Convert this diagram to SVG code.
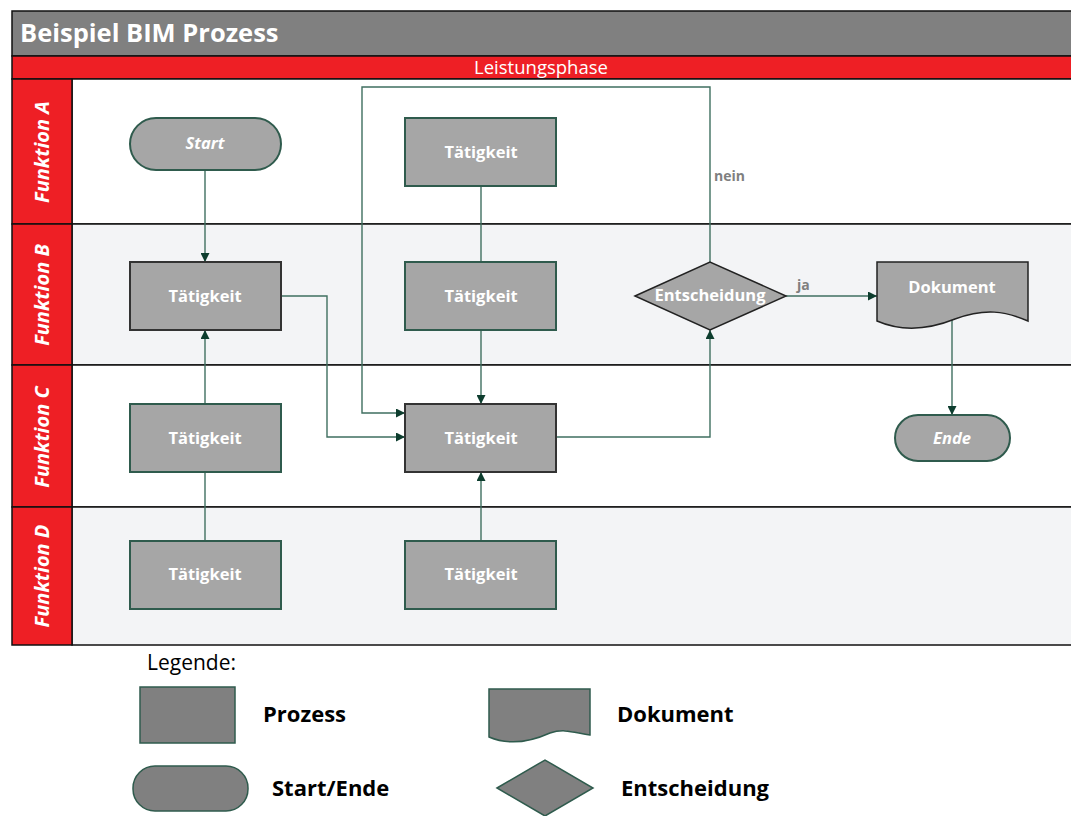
<svg xmlns="http://www.w3.org/2000/svg" width="1071" height="816" viewBox="0 0 1071 816">
<style>
.fr{stroke:#111;stroke-width:1.5}
.lane-lbl{font-family:"Open Sans","Noto Sans",sans-serif;font-weight:700;font-style:italic;font-size:20px;fill:#fff}
.box{fill:#a6a6a6;stroke:#2f5b4d;stroke-width:2}
.boxd{fill:#a6a6a6;stroke:#333;stroke-width:2}
.t{font-family:"Open Sans","Noto Sans",sans-serif;font-weight:700;font-size:16.5px;fill:#fff;text-anchor:middle}
.ti{font-style:italic}
.e{fill:none;stroke:#3f6f60;stroke-width:1.4}
.el{font-family:"Open Sans","Noto Sans",sans-serif;font-weight:700;font-size:14px;fill:#7f7f7f}
.lg{fill:#808080;stroke:#2f5b4d;stroke-width:1.5}
.lt{font-family:"Open Sans","Noto Sans",sans-serif;font-weight:700;font-size:22px;fill:#000}
</style>
<defs>
<marker id="ah" viewBox="0 0 10 10" refX="10" refY="5" markerWidth="9" markerHeight="9" markerUnits="userSpaceOnUse" orient="auto">
<path d="M0,0 L10,5 L0,10 Z" fill="#0d3d2e"/>
</marker>
</defs>
<rect width="1071" height="816" fill="#fff"/>
<g id="frame">
<rect x="12" y="11" width="1060" height="45" fill="#808080" class="fr"/>
<text x="20" y="42" font-family="Open Sans, Noto Sans, sans-serif" font-weight="700" font-size="25.5" fill="#fff">Beispiel BIM Prozess</text>
<rect x="12" y="56" width="1060" height="23" fill="#ee1f25" class="fr"/>
<text x="541" y="74" font-family="Open Sans, Noto Sans, sans-serif" font-size="18.5" fill="#fff" text-anchor="middle">Leistungsphase</text>
<rect x="72" y="79" width="1000" height="145" fill="#fff" class="fr"/>
<rect x="72" y="224" width="1000" height="141" fill="#f3f4f6" class="fr"/>
<rect x="72" y="365" width="1000" height="142" fill="#fff" class="fr"/>
<rect x="72" y="507" width="1000" height="138" fill="#f3f4f6" class="fr"/>
<rect x="12" y="79" width="60" height="145" fill="#ee1f25" class="fr"/>
<rect x="12" y="224" width="60" height="141" fill="#ee1f25" class="fr"/>
<rect x="12" y="365" width="60" height="142" fill="#ee1f25" class="fr"/>
<rect x="12" y="507" width="60" height="138" fill="#ee1f25" class="fr"/>
<text class="lane-lbl" transform="translate(49,152) rotate(-90)" text-anchor="middle">Funktion A</text>
<text class="lane-lbl" transform="translate(49,295) rotate(-90)" text-anchor="middle">Funktion B</text>
<text class="lane-lbl" transform="translate(49,437) rotate(-90)" text-anchor="middle">Funktion C</text>
<text class="lane-lbl" transform="translate(49,576) rotate(-90)" text-anchor="middle">Funktion D</text>
</g>
<g id="connectors">
<path class="e" d="M205,170 V262" marker-end="url(#ah)"/>
<path class="e" d="M205,404 V330" marker-end="url(#ah)"/>
<path class="e" d="M205,541 V472"/>
<path class="e" d="M281,296 H327 V437 H405" marker-end="url(#ah)"/>
<path class="e" d="M710,262 V87 H362 V413 H405" marker-end="url(#ah)"/>
<path class="e" d="M481,186 V262"/>
<path class="e" d="M481,330 V404" marker-end="url(#ah)"/>
<path class="e" d="M481,541 V472" marker-end="url(#ah)"/>
<path class="e" d="M556,437 H710 V330" marker-end="url(#ah)"/>
<path class="e" d="M786,296 H877" marker-end="url(#ah)"/>
<path class="e" d="M952,320 V415" marker-end="url(#ah)"/>
<text class="el" x="714" y="181">nein</text>
<text class="el" x="797" y="290">ja</text>
</g>
<g id="start"><rect class="box" x="130" y="118" width="151" height="52" rx="26"/><text class="t ti" x="205" y="149">Start</text></g>
<g id="a1"><rect class="box" x="405" y="118" width="151" height="68"/><text class="t" x="481" y="158">Tätigkeit</text></g>
<g id="b1"><rect class="boxd" x="130" y="262" width="151" height="68"/><text class="t" x="205" y="302">Tätigkeit</text></g>
<g id="b2"><rect class="box" x="405" y="262" width="151" height="68"/><text class="t" x="481" y="302">Tätigkeit</text></g>
<g id="decision"><path d="M635,296 L710,262 L786,296 L710,330 Z" fill="#a6a6a6" stroke="#222" stroke-width="1.5"/><text class="t" x="710" y="301" font-size="15">Entscheidung</text></g>
<g id="dokument"><path d="M877,262 H1028 V321 C1005,311 985,308 955,319 C925,331 900,331 877,321 Z" fill="#a6a6a6" stroke="#222" stroke-width="1.5"/><text class="t" x="952" y="293">Dokument</text></g>
<g id="c1"><rect class="box" x="130" y="404" width="151" height="68"/><text class="t" x="205" y="444">Tätigkeit</text></g>
<g id="c2"><rect class="boxd" x="405" y="404" width="151" height="68"/><text class="t" x="481" y="444">Tätigkeit</text></g>
<g id="ende"><rect class="box" x="895" y="415" width="115" height="46" rx="23"/><text class="t ti" x="952" y="444">Ende</text></g>
<g id="d1"><rect class="box" x="130" y="541" width="151" height="68"/><text class="t" x="205" y="580">Tätigkeit</text></g>
<g id="d2"><rect class="box" x="405" y="541" width="151" height="68"/><text class="t" x="481" y="580">Tätigkeit</text></g>
<g id="legend">
<text x="147" y="670" font-family="Open Sans, Noto Sans, sans-serif" font-size="21" fill="#000">Legende:</text>
<rect class="lg" x="140" y="687" width="95" height="56"/>
<text class="lt" x="263" y="722">Prozess</text>
<path class="lg" d="M489,689 H590 V735 C575,733 565,728 550,733 C530,742 510,746 489,737 Z"/>
<text class="lt" x="617" y="722">Dokument</text>
<rect class="lg" x="133" y="766" width="115" height="45" rx="22"/>
<text class="lt" x="272" y="796">Start/Ende</text>
<path class="lg" d="M497,788 L545,760 L593,788 L545,816 Z"/>
<text class="lt" x="621" y="796">Entscheidung</text>
</g>
</svg>
